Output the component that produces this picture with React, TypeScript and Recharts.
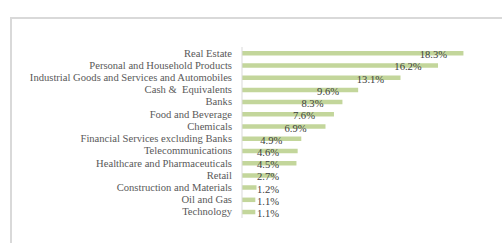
import React from "react";
import { BarChart, Bar, XAxis, YAxis, LabelList } from "recharts";

const categories = [
  "Real Estate",
  "Personal and Household Products",
  "Industrial Goods and Services and Automobiles",
  "Cash &  Equivalents",
  "Banks",
  "Food and Beverage",
  "Chemicals",
  "Financial Services excluding Banks",
  "Telecommunications",
  "Healthcare and Pharmaceuticals",
  "Retail",
  "Construction and Materials",
  "Oil and Gas",
  "Technology",
];
const values = [18.3, 16.2, 13.1, 9.6, 8.3, 7.6, 6.9, 4.9, 4.6, 4.5, 2.7, 1.2, 1.1, 1.1];
const valueLabels = ["18.3%", "16.2%", "13.1%", "9.6%", "8.3%", "7.6%", "6.9%", "4.9%", "4.6%", "4.5%", "2.7%", "1.2%", "1.1%", "1.1%"];

const data = categories.map((name, i) => ({ name, value: values[i], label: valueLabels[i] }));

const FONT = "'Liberation Serif', 'Times New Roman', serif";

const ValueLabel = (props: any) => {
  const { x, y, width, height, index } = props;
  const end = x + width;
  const cx = Math.max(end - 30, 268);
  return (
    <text
      x={cx}
      y={y + height / 2 + 1.5}
      textAnchor="middle"
      dominantBaseline="central"
      fontSize={10.6}
      fontFamily={FONT}
      fill="#404040"
    >
      {valueLabels[index]}
    </text>
  );
};

const CatTick = (props: any) => {
  const { x, y, payload } = props;
  return (
    <text
      x={x}
      y={y}
      textAnchor="end"
      dominantBaseline="central"
      fontSize={10.6}
      fontFamily={FONT}
      fill="#595959"
      style={{ whiteSpace: "pre" }}
    >
      {payload.value}
    </text>
  );
};

export default function App() {
  return (
    <div style={{ position: "absolute", left: 0, top: 0, width: 502, height: 243, background: "#fff" }}>
      <div
        style={{
          position: "absolute",
          left: 10,
          top: 17,
          width: 500,
          height: 240,
          borderLeft: "2px solid #d9d9d9",
          borderTop: "2px solid #d9d9d9",
          boxSizing: "border-box",
        }}
      />
      <div style={{ position: "absolute", left: 0, top: 0 }}>
        <BarChart
          width={502}
          height={243}
          data={data}
          layout="vertical"
          margin={{ top: 47, right: 18, bottom: 25, left: 0 }}
          barSize={4.5}
        >
          <XAxis type="number" domain={[0, 20]} hide />
          <YAxis
            type="category"
            dataKey="name"
            width={242}
            interval={0}
            tickLine={false}
            tickMargin={4}
            axisLine={{ stroke: "#d9d9d9", strokeWidth: 1 }}
            tick={<CatTick />}
          />
          <Bar dataKey="value" fill="#c3d69b" isAnimationActive={false}>
            <LabelList dataKey="label" content={<ValueLabel />} />
          </Bar>
        </BarChart>
      </div>
    </div>
  );
}
